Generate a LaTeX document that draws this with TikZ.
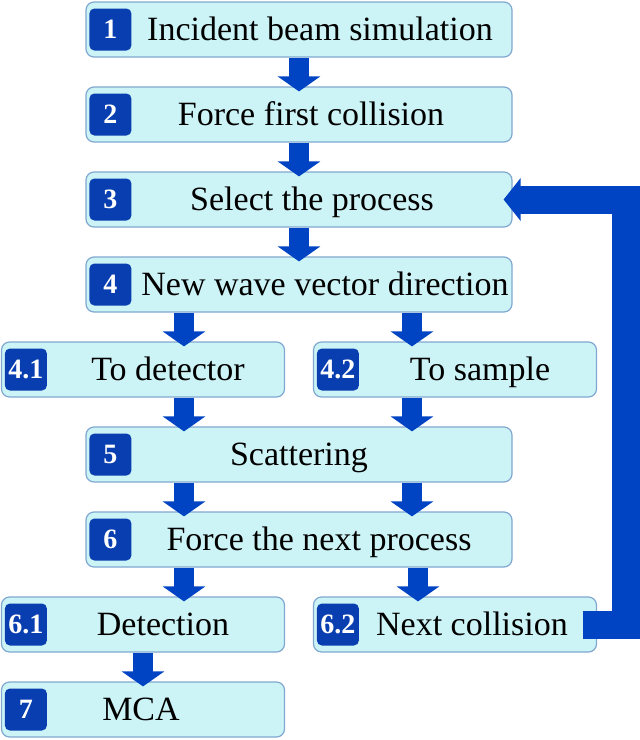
\documentclass[tikz,border=0pt]{standalone}
\usepackage{fontspec}
\setmainfont{Liberation Serif}
\usetikzlibrary{positioning, arrows.meta}

\definecolor{boxfill}{RGB}{204,243,246}
\definecolor{boxline}{RGB}{128,168,208}
\definecolor{badgeblue}{RGB}{8,62,176}
\definecolor{arrowblue}{RGB}{0,68,196}

\tikzset{
  stage/.style={draw=boxline, fill=boxfill, rounded corners=4pt, minimum height=27.5pt, line width=0.6pt},
  wide/.style={stage, minimum width=213pt},
  narrow/.style={stage, minimum width=141.5pt},
  badge/.style={fill=badgeblue, rounded corners=2.5pt, minimum size=21pt, inner sep=0pt, text=white,
    font=\bfseries\fontsize{14}{14}\selectfont, text height=9.4pt, text depth=0pt},
  caption/.style={inner sep=0pt, font=\fontsize{17}{17}\selectfont, text height=11.3pt, text depth=0pt},
  flow/.style={draw=arrowblue, line width=10pt, shorten >=-2.5pt, -{Triangle[width=21pt,length=7.5pt]}},
  back/.style={draw=arrowblue, line width=14pt, shorten <=-7pt, shorten >=-4.5pt, -{Triangle[width=21pt,length=8.5pt]}},
}

\begin{document}
\begin{tikzpicture}[x=0.5pt, y=-0.5pt, node distance=42.5pt, on grid]
    \useasboundingbox (0,0) rectangle (640,740);
    \node[wide] (s1) at (299,29.5) {};
    \node[wide] (s2) [below=of s1] {};
    \node[wide] (s3) [below=of s2] {};
    \node[wide] (s4) [below=of s3] {};
    \node[narrow] (s41) [below left=42.5pt and 78pt of s4] {};
    \node[narrow] (s42) [below right=42.5pt and 78pt of s4] {};
    \node[wide] (s5) [below=85pt of s4] {};
    \node[wide] (s6) [below=of s5] {};
    \node[narrow] (s61) [below left=42.5pt and 78pt of s6] {};
    \node[narrow] (s62) [below right=42.5pt and 78pt of s6] {};
    \node[narrow] (s7) [below=of s61] {};

    \node[badge] (n1) at ([xshift=12.5pt]s1.west) {1};
    \node[badge] (n2) at ([xshift=12.5pt]s2.west) {2};
    \node[badge] (n3) at ([xshift=12.5pt]s3.west) {3};
    \node[badge] (n4) at ([xshift=12.5pt]s4.west) {4};
    \node[badge] (n41) at ([xshift=12.5pt]s41.west) {4.1};
    \node[badge] (n42) at ([xshift=12.5pt]s42.west) {4.2};
    \node[badge] (n5) at ([xshift=12.5pt]s5.west) {5};
    \node[badge] (n6) at ([xshift=12.5pt]s6.west) {6};
    \node[badge] (n61) at ([xshift=12.5pt]s61.west) {6.1};
    \node[badge] (n62) at ([xshift=12.5pt]s62.west) {6.2};
    \node[badge] (n7) at ([xshift=12.5pt]s7.west) {7};

    \node[caption] (t1) [right=10.5pt of s1] {Incident beam simulation};
    \node[caption] (t2) [right=6pt of s2] {Force first collision};
    \node[caption] (t3) [right=6.5pt of s3] {Select the process};
    \node[caption] (t4) [right=13pt of s4] {New wave vector direction};
    \node[caption] (t41) [right=12.5pt of s41] {To detector};
    \node[caption] (t42) [right=12.5pt of s42] {To sample};
    \node[caption] (t5) at (s5) {Scattering};
    \node[caption] (t6) [right=10pt of s6] {Force the next process};
    \node[caption] (t61) [right=10pt of s61] {Detection};
    \node[caption] (t62) [right=8.5pt of s62] {Next collision};
    \node[caption] (t7) [left=1pt of s7] {MCA};

    % arrow columns
    \coordinate (cl) at (184,0);
    \coordinate (cr) at (412,0);
    \draw[flow] (s1.south) -- (s2.north);
    \draw[flow] (s2.south) -- (s3.north);
    \draw[flow] (s3.south) -- (s4.north);
    \draw[flow] (cl |- s4.south) -- (cl |- s41.north);
    \draw[flow] (cr |- s4.south) -- (cr |- s42.north);
    \draw[flow] (cl |- s41.south) -- (cl |- s5.north);
    \draw[flow] (cr |- s42.south) -- (cr |- s5.north);
    \draw[flow] (cl |- s5.south) -- (cl |- s6.north);
    \draw[flow] (cr |- s5.south) -- (cr |- s6.north);
    \draw[flow] (cl |- s6.south) -- (cl |- s61.north);
    \draw[flow] ([xshift=3pt]cr |- s6.south) -- ([xshift=3pt]cr |- s62.north);
    \draw[flow] (s61.south) -- (s7.north);

    \coordinate (turn) at (626,0);
    \draw[back] (s62.east) -- (s62.east -| turn) -- (s3.east -| turn) -- (s3.east);
\end{tikzpicture}
\end{document}
